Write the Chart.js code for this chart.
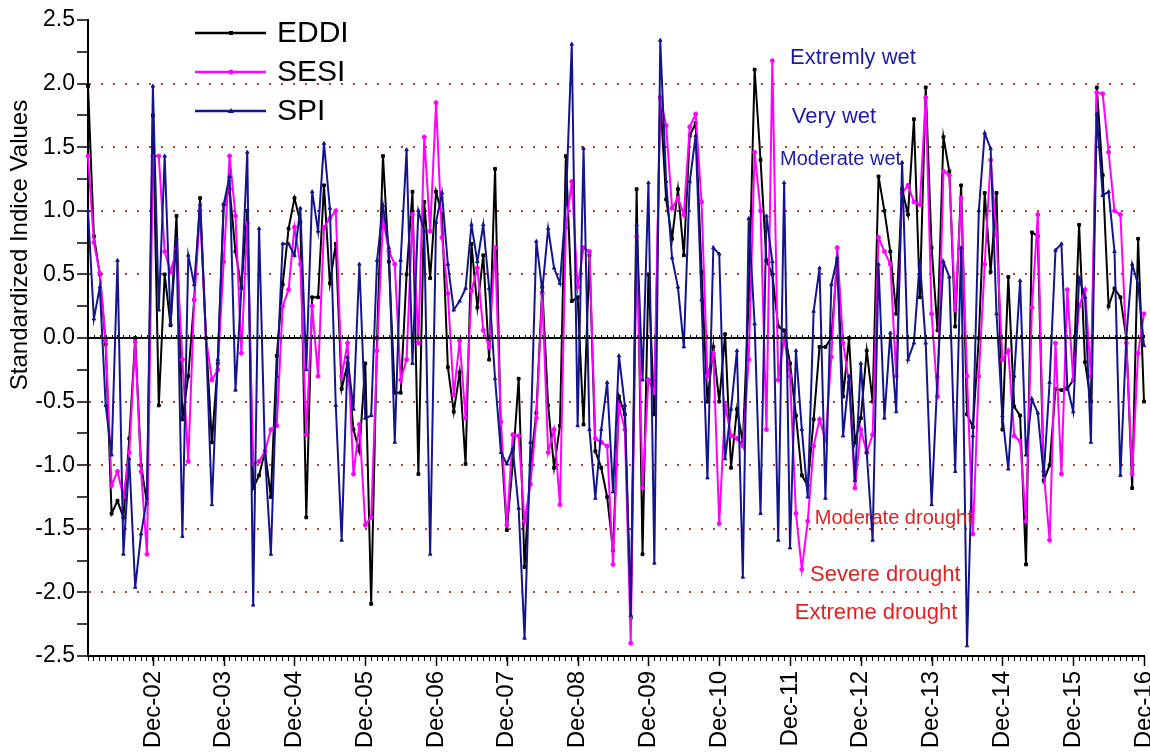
<!DOCTYPE html>
<html>
<head>
<meta charset="utf-8">
<script src="https://cdn.jsdelivr.net/npm/chart.js@4"></script>
<style>
	html, body { margin: 0; padding: 0; background: #fff; }
	.chart-box { width: 1150px; height: 754px; position: relative; }
</style>
</head>
<body>
<div class="chart-box"><canvas class="chart-line"></canvas></div>
<script>
// data (monthly, Jan-02 .. Dec-16)

const monthNames = ['Jan', 'Feb', 'Mar', 'Apr', 'May', 'Jun', 'Jul', 'Aug', 'Sep', 'Oct', 'Nov', 'Dec'];
const yearNames = ['02', '03', '04', '05', '06', '07', '08', '09', '10', '11', '12', '13', '14', '15', '16'];
const labels = yearNames.flatMap(y => monthNames.map(m => `${m}-${y}`));

const eddi = [
	1.98, 0.80, 0.50, -0.05, -1.38, -1.28, -1.41, -0.79, 0.00, -1.00, -1.30, 1.75,
	-0.53, 0.50, 0.10, 0.96, -0.64, -0.30, 0.30, 1.10, 0.00, -0.82, -0.20, 1.05,
	1.17, 0.68, 0.40, 1.00, -1.18, -1.08, -0.89, -1.25, -0.14, 0.42, 0.86, 1.10,
	0.91, -1.41, 0.32, 0.32, 1.20, 0.43, 0.74, -0.40, -0.20, -0.72, -0.89, -0.20,
	-2.09, 0.00, 1.43, 0.60, -0.43, -0.43, 0.50, 1.15, -1.07, 1.07, 0.47, 1.15,
	0.97, -0.23, -0.58, -0.27, -0.99, 0.74, 0.24, 0.65, -0.17, 1.33, -0.80, -1.51,
	-0.99, -0.32, -1.80, -1.00, -0.59, 0.40, -0.53, -1.02, -0.69, 1.43, 0.29, 0.32,
	-0.68, 0.65, -0.89, -1.02, -1.25, -1.67, -0.46, -0.60, -2.20, 1.17, -1.70, 0.50,
	-0.60, 1.89, 1.09, 0.78, 1.17, 0.65, 1.59, 1.69, 0.52, -0.50, -0.07, -0.50,
	0.03, -1.02, -0.56, -0.82, 0.30, 2.11, 1.40, 0.61, 0.50, 0.09, 0.06, -0.20,
	-0.61, -1.08, -1.16, -0.64, -0.07, -0.07, 0.00, 0.60, -0.46, 0.00, -0.82, -0.63,
	-0.10, -0.50, 1.27, 1.00, 0.68, 0.19, 1.17, 0.97, 1.72, 0.32, 1.97, 0.71,
	0.06, 1.58, 1.31, 0.09, 1.20, -0.60, -0.70, 0.00, 1.14, 0.52, 1.14, -0.72,
	0.48, -0.54, -0.61, -1.78, 0.83, 0.80, -1.12, -1.00, -0.40, -0.41, -0.40, -0.33,
	0.89, -0.19, -0.50, 1.97, 1.28, 0.25, 0.39, 0.32, 0.00, -1.18, 0.78, -0.50
];

const sesi = [
	1.43, 0.75, 0.51, -0.02, -1.16, -1.05, -1.25, -0.90, -0.03, -1.05, -1.70, 1.43,
	1.43, 0.68, 0.52, 0.70, -0.17, -0.97, 0.30, 1.00, 0.00, -0.33, -0.25, 0.60,
	1.43, 0.96, -0.12, 0.90, -0.99, -0.97, -0.89, -0.72, -0.69, 0.25, 0.38, 0.87,
	0.58, -0.76, 0.25, -0.30, 0.87, 0.94, 1.00, -0.30, -0.04, -1.07, -0.68, -1.47,
	-1.41, -0.10, 0.94, 0.68, 0.58, -0.33, -0.17, 0.97, -0.04, 1.58, 0.84, 1.85,
	0.79, 0.35, -0.45, -0.02, -0.63, 0.37, 0.55, 0.06, -0.07, 0.71, -0.66, -1.47,
	-0.76, -0.77, -1.44, -1.15, -0.63, 0.35, -0.90, -0.72, -1.31, 0.87, 1.23, 0.40,
	0.71, 0.68, -0.79, -0.82, -0.85, -1.78, -0.53, -0.72, -2.40, 0.80, -1.18, -0.33,
	-0.43, 1.89, 1.67, 1.02, 1.10, 0.97, 1.66, 1.76, 1.07, -0.30, -0.12, -1.46,
	-0.53, -0.77, -0.79, -0.85, -0.17, 1.46, 1.00, -0.72, 2.18, -0.33, 0.00, -0.30,
	-1.38, -1.82, -1.44, -0.85, -0.64, -0.80, -0.15, 0.71, -0.04, -0.35, -1.18, -0.72,
	-0.90, -0.76, 0.79, 0.68, 0.58, -0.30, 1.14, 1.20, 1.07, 1.05, 1.89, 0.19,
	-0.46, 1.31, 1.28, 0.22, 1.10, -0.30, -1.54, -0.30, 0.58, 1.40, 0.81, -0.17,
	-0.10, -0.77, -0.81, -1.44, 0.24, 0.97, -1.05, -1.59, -0.04, -1.07, 0.38, -0.33,
	0.25, 0.38, -0.30, 1.93, 1.92, 1.46, 1.00, 0.97, -0.04, -1.07, -0.12, 0.19
];

const spi = [
	1.00, 0.15, 0.40, -0.53, -0.92, 0.61, -1.70, -0.95, -1.96, -1.54, -1.26, 1.98,
	0.22, 1.43, 0.11, 0.78, -1.56, 0.65, 0.42, 1.05, 0.00, -1.31, -0.17, 1.05,
	1.27, -0.41, 0.39, 1.46, -2.10, 0.86, -0.92, -1.70, -0.30, 0.74, 0.74, 0.65,
	1.02, -0.25, 1.15, 0.84, 1.53, 1.02, -0.53, -1.59, -0.15, -0.56, 0.58, -0.63,
	-0.61, 0.61, 1.04, 0.71, -0.82, 0.61, 1.48, -0.20, 1.00, 0.84, -1.70, 0.91,
	1.14, 0.58, 0.22, 0.29, 0.39, 0.89, 0.60, 0.89, 0.39, -0.32, -0.90, -0.99,
	-0.87, -1.34, -2.36, -0.82, 0.76, 0.37, 0.86, 0.55, 0.43, 1.05, 2.31, -0.69,
	1.49, -0.72, -1.26, -0.72, -0.35, -1.21, -0.14, -0.53, -2.18, 0.89, -0.33, 1.22,
	-1.77, 2.34, 1.23, 0.63, 0.40, -0.07, 1.23, 1.59, 0.30, -1.10, 0.71, 0.66,
	-0.95, -0.56, -0.10, -1.88, 0.94, 0.11, -1.38, 0.96, 0.60, -1.59, 1.22, -1.65,
	-0.10, -0.72, -1.25, 0.21, 0.55, -1.26, 0.42, 0.63, -0.77, -0.30, -1.12, -0.20,
	-0.90, -1.59, 0.58, -0.63, 0.04, -0.58, 1.38, -0.17, -0.04, 0.61, -0.04, -1.31,
	-0.30, 0.60, 0.48, -1.05, 0.71, -2.42, -0.77, 1.00, 1.61, 1.49, 0.19, -0.61,
	-1.03, -0.30, 0.45, -0.92, -0.48, -0.59, -1.08, -0.35, 0.69, 0.74, -0.38, -0.58,
	0.47, 0.32, -0.82, 1.76, 1.12, 1.15, 0.68, -1.08, 0.00, 0.58, 0.42, -0.06
];

// class labels inside the plot: text, month index, value
const classTexts = ['Extremly wet', 'Very wet', 'Moderate wet', 'Moderate drought', 'Severe drought', 'Extreme drought'];
const classAt = [119, 119.3, 117.3, 123.2, 122.4, 119.8];
const classValue = [2.2, 1.74, 1.4, -1.415, -1.86, -2.16];

const FONT = "'Liberation Sans', Arial, sans-serif";
const BLUE_TEXT = '#1c1ca8';
const RED_TEXT = '#e02222';


// small marker for the hand drawn legend
const drawMarker = (ctx, style, cx, cy) => {
	ctx.beginPath();
	if (style === 'circle') {
		ctx.arc(cx, cy, 2.5, 0, Math.PI * 2);
	} else if (style === 'triangle') {
		ctx.moveTo(cx, cy - 3);
		ctx.lineTo(cx + 3, cy + 2);
		ctx.lineTo(cx - 3, cy + 2);
		ctx.closePath();
	} else {
		ctx.rect(cx - 2, cy - 2, 4, 4);
	}
	ctx.fill();
};


// extra drawing: zero line, long Dec ticks, class texts, legend, y title
const decorPlugin = {
	id: 'decor',
	afterDatasetsDraw(chart) {
		const {ctx, chartArea, scales: {x, y}} = chart;
		const y0 = y.getPixelForValue(0);

		ctx.save();
		ctx.strokeStyle = '#000';
		ctx.lineWidth = 2;
		ctx.beginPath();
		ctx.moveTo(chartArea.left, y0);
		ctx.lineTo(chartArea.right, y0);
		ctx.stroke();

		ctx.lineWidth = 1;
		labels.forEach((l, i) => {
			const px = Math.round(x.getPixelForValue(i)) + 0.5;
			ctx.beginPath();
			ctx.moveTo(px, y0);
			ctx.lineTo(px, y0 - 3);
			ctx.stroke();
			if (l.startsWith('Dec')) {
				ctx.lineWidth = 1.5;
				ctx.beginPath();
				ctx.moveTo(px, chartArea.bottom);
				ctx.lineTo(px, chartArea.bottom + 10);
				ctx.stroke();
				ctx.lineWidth = 1;
			}
		});

		ctx.textAlign = 'left';
		ctx.textBaseline = 'middle';
		classTexts.forEach((t, k) => {
			const small = t.startsWith('Moderate');
			ctx.font = `${small ? 20 : 22}px ${FONT}`;
			ctx.fillStyle = classValue[k] > 0 ? BLUE_TEXT : RED_TEXT;
			ctx.fillText(t, x.getPixelForValue(classAt[k]), y.getPixelForValue(classValue[k]));
		});
		ctx.restore();
	},
	afterDraw(chart) {
		const {ctx} = chart;
		ctx.save();

		// legend
		chart.data.datasets.forEach((ds, k) => {
			const ly = 33 + k * 39;
			ctx.strokeStyle = ds.borderColor;
			ctx.fillStyle = ds.borderColor;
			ctx.lineWidth = 2.5;
			ctx.beginPath();
			ctx.moveTo(195, ly);
			ctx.lineTo(266, ly);
			ctx.stroke();
			drawMarker(ctx, ds.pointStyle, 231, ly);
			ctx.fillStyle = '#000';
			ctx.font = `30px ${FONT}`;
			ctx.textAlign = 'left';
			ctx.textBaseline = 'middle';
			ctx.fillText(ds.label, 277, ly + 1);
		});

		// y axis title
		ctx.translate(20, 245);
		ctx.rotate(-Math.PI / 2);
		ctx.font = `24px ${FONT}`;
		ctx.fillStyle = '#000';
		ctx.textAlign = 'center';
		ctx.textBaseline = 'middle';
		ctx.fillText('Standardized Indice Values', 0, 0);
		ctx.restore();
	}
};


document.addEventListener('DOMContentLoaded', () => {
	const chartLine = document.querySelector('.chart-line');

	const series = (label, data, color, style, order) => ({
		label,
		data,
		borderColor: color,
		backgroundColor: color,
		borderWidth: 2,
		pointStyle: style,
		pointRadius: 2,
		pointBorderWidth: 1,
		pointBackgroundColor: color,
		tension: 0,
		order
	});

	new Chart(chartLine, {
		type: 'line',
		data: {
			labels,
			datasets: [
				series('EDDI', eddi, '#000000', 'rect', 3),
				series('SESI', sesi, '#ff00ff', 'circle', 2),
				series('SPI', spi, '#14148f', 'triangle', 1)
			]
		},
		options: {
			responsive: true,
			maintainAspectRatio: false,
			animation: false,
			layout: {
				padding: {top: 20, right: 6, left: 0, bottom: 0}
			},
			scales: {
				x: {
					type: 'category',
					offset: false,
					border: {display: true, color: '#000', width: 2},
					grid: {
						drawOnChartArea: false,
						drawTicks: true,
						tickLength: 5,
						tickColor: '#000',
						tickWidth: 1
					},
					ticks: {
						autoSkip: false,
						minRotation: 90,
						maxRotation: 90,
						padding: 10,
						color: '#000',
						font: {family: FONT, size: 24},
						callback: (v, i) => labels[i].startsWith('Dec') ? labels[i] : ''
					},
					afterFit: (scale) => {
						scale.height = 98;
						scale.paddingRight = 0;
						scale.paddingLeft = 0;
					}
				},
				y: {
					min: -2.5,
					max: 2.5,
					border: {display: true, color: '#000', width: 2, dash: [2, 10]},
					grid: {
						drawOnChartArea: true,
						drawTicks: true,
						tickLength: 11,
						tickColor: '#000',
						tickWidth: 1.5,
						lineWidth: 2,
						color: (c) => {
							const v = c.tick ? c.tick.value : 0;
							const half = Math.abs(v * 2 - Math.round(v * 2)) < 1e-6;
							return (half && v !== 0 && Math.abs(v) < 2.4) ? '#b0403a' : 'rgba(0,0,0,0)';
						}
					},
					ticks: {
						stepSize: 0.25,
						padding: 2,
						color: '#000',
						font: {family: FONT, size: 23},
						callback: (v) => Math.abs(v * 2 - Math.round(v * 2)) < 1e-6 ? v.toFixed(1) : ''
					},
					afterFit: (scale) => {
						scale.width = 88;
					}
				}
			},
			plugins: {
				legend: false,
				tooltip: {enabled: false}
			}
		},
		plugins: [decorPlugin]
	});
});
</script>
</body>
</html>
